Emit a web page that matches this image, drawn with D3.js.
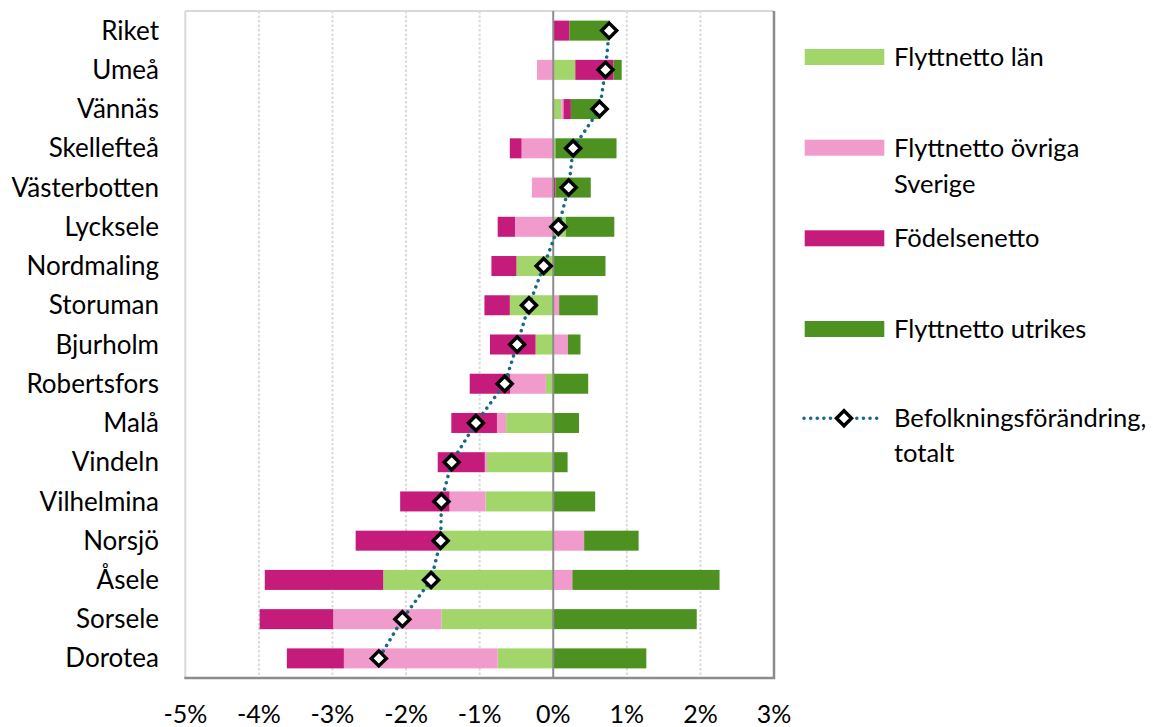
<!DOCTYPE html>
<html><head><meta charset="utf-8">
<script src="https://cdn.jsdelivr.net/npm/d3@7/dist/d3.min.js"></script>
<style>body{margin:0;background:#fff;} text{font-family:Lato, "Open Sans", sans-serif;}</style>
</head><body><svg id="c" width="1153" height="727"></svg>
<script>
const categories = ["Riket","Umeå","Vännäs","Skellefteå","Västerbotten","Lycksele","Nordmaling","Storuman","Bjurholm","Robertsfors","Malå ","Vindeln","Vilhelmina","Norsjö","Åsele","Sorsele","Dorotea"];
const flyttLan     = [0, 0.30, 0.11, 0.03, 0, 0.17, -0.50, -0.59, -0.24, -0.10, -0.64, -0.90, -0.92, -1.53, -2.31, -1.52, -0.755];
const flyttOvriga  = [0, -0.22, 0.03, -0.43, -0.29, -0.52, 0, 0.08, 0.20, -0.485, -0.125, -0.03, -0.49, 0.42, 0.26, -1.47, -2.09];
const fodelse      = [0.22, 0.52, 0.10, -0.16, 0.03, -0.235, -0.34, -0.345, -0.62, -0.55, -0.62, -0.64, -0.67, -1.155, -1.61, -1.0, -0.775];
const flyttUtrikes = [0.55, 0.11, 0.40, 0.83, 0.48, 0.66, 0.71, 0.525, 0.17, 0.475, 0.35, 0.195, 0.57, 0.74, 2.00, 1.95, 1.265];
const totalt       = [0.76, 0.71, 0.63, 0.27, 0.21, 0.07, -0.13, -0.33, -0.49, -0.66, -1.05, -1.38, -1.52, -1.53, -1.66, -2.05, -2.37];
const xTicks = [-5,-4,-3,-2,-1,0,1,2,3];
const seriesNames = ["Flyttnetto län","Flyttnetto övriga Sverige","Födelsenetto","Flyttnetto utrikes"];
const seriesColors = ["#A2D66B","#F09BCB","#C51B7A","#4D9121"];
const seriesValues = [flyttLan, flyttOvriga, fodelse, flyttUtrikes];

const svg = d3.select("#c");
const L = 185.3, R = 774, T = 11, B = 678;
const x = d3.scaleLinear().domain([-5,3]).range([L,R]);
const y = d3.scaleBand().domain(categories).range([T,B]).paddingInner(0.49).paddingOuter(0.245);

// gridlines
svg.append("g").selectAll("line").data(xTicks.filter(t=>t!==0 && t!==-5 && t!==3)).join("line")
  .attr("x1",d=>x(d)).attr("x2",d=>x(d)).attr("y1",T).attr("y2",B)
  .attr("stroke","#d9d9d9").attr("stroke-width",2).attr("stroke-dasharray","2.5,2");
// frame
svg.append("line").attr("x1",L).attr("x2",R).attr("y1",T).attr("y2",T).attr("stroke","#d9d9d9").attr("stroke-width",2);
svg.append("line").attr("x1",L).attr("x2",L).attr("y1",T).attr("y2",B).attr("stroke","#d9d9d9").attr("stroke-width",2);

// stacked bars
const rects = [];
categories.forEach((c,i)=>{
  let pos=0, neg=0;
  seriesValues.forEach((arr,s)=>{
    const v = arr[i];
    if (v===0) return;
    let a,b;
    if (v>0){a=pos;b=pos+v;pos=b;} else {a=neg+v;b=neg;neg=a;}
    rects.push({c,s,a,b});
  });
});
svg.append("g").selectAll("rect").data(rects).join("rect")
  .attr("x",d=>x(d.a)).attr("width",d=>x(d.b)-x(d.a))
  .attr("y",d=>y(d.c)).attr("height",y.bandwidth())
  .attr("fill",d=>seriesColors[d.s]);

// zero line, right & bottom frame
svg.append("line").attr("x1",x(0)).attr("x2",x(0)).attr("y1",T).attr("y2",B).attr("stroke","#8c8c8c").attr("stroke-width",2);
svg.append("line").attr("x1",R).attr("x2",R).attr("y1",T).attr("y2",B+1).attr("stroke","#8c8c8c").attr("stroke-width",2.5);
svg.append("line").attr("x1",L-1).attr("x2",R+1).attr("y1",B).attr("y2",B).attr("stroke","#8c8c8c").attr("stroke-width",2.5);

// total line
const line = d3.line().x(d=>x(d.v)).y(d=>y(d.c)+y.bandwidth()/2);
const pts = categories.map((c,i)=>({c,v:totalt[i]}));
svg.append("path").datum(pts).attr("d",line).attr("fill","none")
  .attr("stroke","#17698A").attr("stroke-width",3.5).attr("stroke-linecap","round").attr("stroke-dasharray","0.1,6.5");
const dia = "M0,-7.5L7.5,0L0,7.5L-7.5,0Z";
svg.append("g").selectAll("path").data(pts).join("path")
  .attr("d",dia).attr("transform",d=>`translate(${x(d.v)},${y(d.c)+y.bandwidth()/2})`)
  .attr("fill","#fff").attr("stroke","#000").attr("stroke-width",3.5).attr("stroke-linejoin","miter");

// category labels
svg.append("g").selectAll("text").data(categories).join("text")
  .attr("x",159).attr("y",d=>y(d)+y.bandwidth()/2).attr("dy","0.35em")
  .attr("text-anchor","end").attr("font-size",26).attr("fill","#000").text(d=>d);
// x tick labels
svg.append("g").selectAll("text").data(xTicks).join("text")
  .attr("x",d=>x(d)).attr("y",714).attr("dy","0.35em").attr("text-anchor","middle")
  .attr("font-size",25).attr("fill","#000").text(d=>d+"%");

// legend
const legY = [57,147.7,238.3,329];
const legLines = [["Flyttnetto län"],["Flyttnetto övriga","Sverige"],["Födelsenetto"],["Flyttnetto utrikes"]];
const lg = svg.append("g");
legY.forEach((ly,i)=>{
  lg.append("rect").attr("x",804.7).attr("y",ly-8).attr("width",79.6).attr("height",16).attr("fill",seriesColors[i]);
  legLines[i].forEach((t,j)=>{
    lg.append("text").attr("x",894).attr("y",ly+j*36.5).attr("dy","0.35em").attr("font-size",25.5).attr("fill","#000").text(t);
  });
});
const ly5 = 418.3;
lg.append("line").attr("x1",804).attr("x2",883).attr("y1",ly5).attr("y2",ly5)
  .attr("stroke","#17698A").attr("stroke-width",3.5).attr("stroke-linecap","round").attr("stroke-dasharray","0.1,6.5");
lg.append("path").attr("d",dia).attr("transform",`translate(844,${ly5})`).attr("fill","#fff").attr("stroke","#000").attr("stroke-width",3.5);
["Befolkningsförändring,","totalt"].forEach((t,j)=>{
  lg.append("text").attr("x",894).attr("y",ly5+j*35).attr("dy","0.35em").attr("font-size",25.5).attr("fill","#000").text(t);
});
</script></body></html>
